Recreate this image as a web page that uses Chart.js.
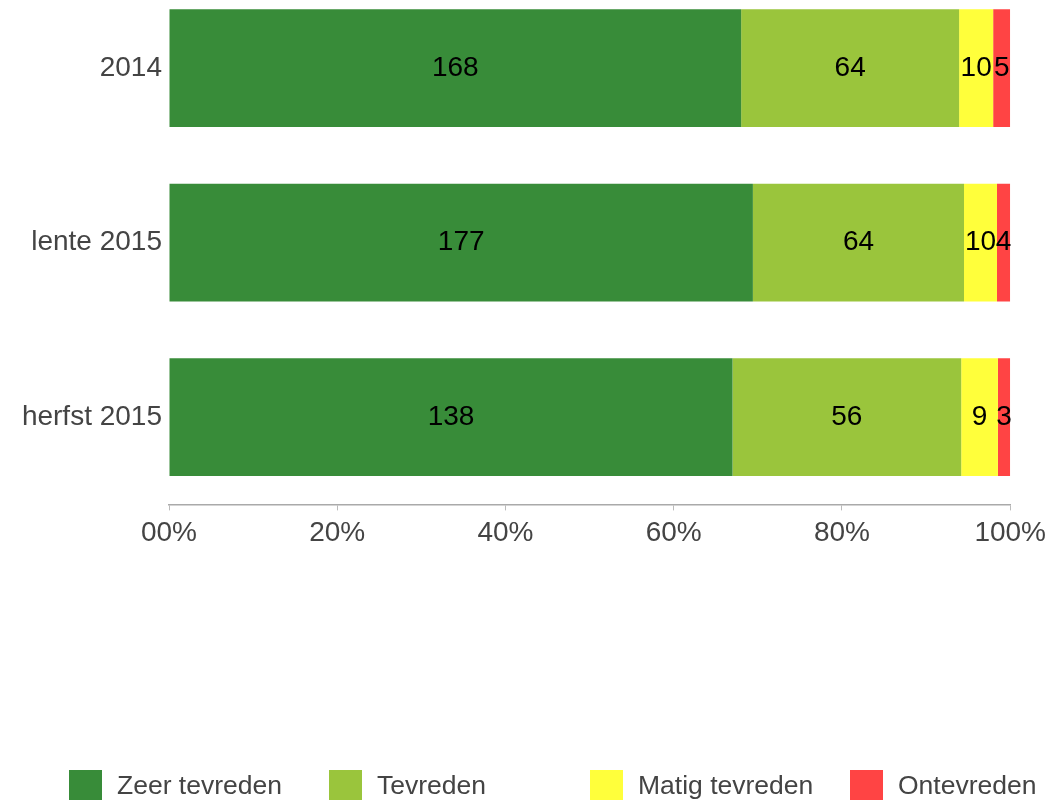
<!DOCTYPE html>
<html>
<head>
<meta charset="utf-8">
<script src="https://cdn.jsdelivr.net/npm/chart.js@4"></script>
<style>
  html, body { margin: 0; padding: 0; background: #fff; }
  #wrap { position: relative; width: 1052px; height: 800px; overflow: hidden; }
  #wrap canvas { position: absolute; left: 0; top: -43px; }
</style>
</head>
<body>
<div id="wrap"><canvas id="chart" width="1052" height="863"></canvas></div>
<script>
const categories = ['2014', 'lente 2015', 'herfst 2015'];
const seriesNames = ['Zeer tevreden', 'Tevreden', 'Matig tevreden', 'Ontevreden'];
const zeerTevreden = [168, 177, 138];
const tevreden = [64, 64, 56];
const matigTevreden = [10, 10, 9];
const ontevreden = [5, 4, 3];
const tickValues = [0, 20, 40, 60, 80, 100];
const colors = ['#388C39', '#9AC53C', '#FFFF3B', '#FF4444'];

const counts = [zeerTevreden, tevreden, matigTevreden, ontevreden];
const totals = categories.map((c, i) => counts.reduce((s, arr) => s + arr[i], 0));

const FONT = "'Liberation Sans', Arial, sans-serif";

// value labels in the middle of each segment
const valueLabels = {
    id: 'valueLabels',
    afterDatasetsDraw(chart) {
        const ctx = chart.ctx;
        ctx.save();
        ctx.font = '28px ' + FONT;
        ctx.fillStyle = '#000';
        ctx.textAlign = 'center';
        ctx.textBaseline = 'middle';
        chart.data.datasets.forEach((ds, di) => {
            chart.getDatasetMeta(di).data.forEach((bar, i) => {
                const x = (bar.x + bar.base) / 2;
                ctx.fillText(String(ds.counts[i]), x, bar.y);
            });
        });
        ctx.restore();
    }
};

// legend laid out in equal columns at the bottom
const gridLegend = {
    id: 'gridLegend',
    afterDraw(chart) {
        const ctx = chart.ctx;
        ctx.save();
        ctx.font = '26.5px ' + FONT;
        ctx.textBaseline = 'middle';
        ctx.textAlign = 'left';
        chart.data.datasets.forEach((ds, i) => {
            const x = Math.round(69 + i * 260.4);
            const y = 813;
            ctx.fillStyle = ds.backgroundColor;
            ctx.fillRect(x, y, 33, 33);
            ctx.fillStyle = '#444';
            ctx.fillText(ds.label, x + 48, y + 17);
        });
        ctx.restore();
    }
};

new Chart(document.getElementById('chart'), {
    type: 'bar',
    data: {
        labels: categories,
        datasets: seriesNames.map((name, k) => ({
            label: name,
            counts: counts[k],
            data: counts[k].map((v, i) => v / totals[i] * 100),
            backgroundColor: colors[k],
            borderWidth: 0,
            barPercentage: 0.674,
            categoryPercentage: 1
        }))
    },
    options: {
        indexAxis: 'y',
        responsive: false,
        animation: false,
        layout: { padding: { top: 0, right: 40, bottom: 264, left: 0 } },
        scales: {
            x: {
                stacked: true,
                min: 0, max: 100,
                afterBuildTicks: (s) => { s.ticks = tickValues.map(v => ({ value: v })); },
                grid: { drawOnChartArea: false, drawTicks: true, tickLength: 6, color: '#bbb' },
                border: { color: '#aaa', width: 1.5 },
                ticks: {
                    padding: 6,
                    color: '#444',
                    font: { size: 28, family: FONT },
                    maxRotation: 0,
                    callback: (v) => (v === 0 ? '00' : v) + '%'
                }
            },
            y: {
                stacked: true,
                afterFit: (s) => { s.width = 169; },
                grid: { display: false, drawTicks: false },
                border: { display: false },
                ticks: { padding: 7, color: '#444', font: { size: 28, family: FONT } }
            }
        },
        plugins: {
            legend: { display: false },
            tooltip: { enabled: false }
        }
    },
    plugins: [valueLabels, gridLegend]
});
</script>
</body>
</html>
